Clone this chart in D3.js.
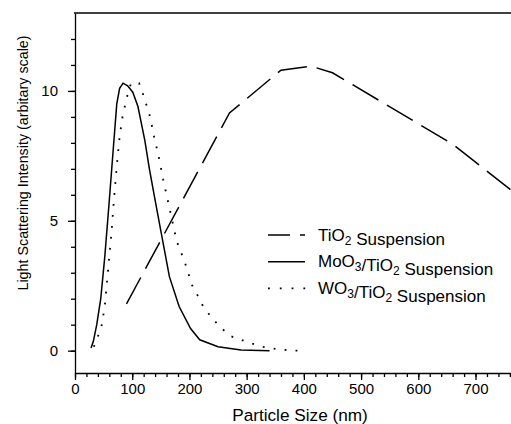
<!DOCTYPE html>
<html>
<head>
<meta charset="utf-8">
<script src="https://cdn.jsdelivr.net/npm/d3@7"></script>
<style>
body { margin: 0; background: #fff; }
text { font-family: "Liberation Sans", Arial, sans-serif; fill: #000; }
</style>
</head>
<body>
<div id="chart"></div>
<script>

// Set dimensions and margins for the plot
const width = 511;
const height = 424;
const margin = {left: 75, right: 0, top: 13, bottom: 51};

// TiO2 suspension (dashed)
const tioSize = [90, 270, 360, 413, 450, 660, 790];
const tioIntensity = [1.8, 9.15, 10.8, 10.95, 10.7, 7.95, 5.7];

// MoO3/TiO2 suspension (solid)
const moSize = [28, 32, 38, 45, 52, 60, 67, 73, 78, 84, 92, 101, 110, 116, 122, 130, 140, 151, 165, 182, 202, 218, 250, 290, 340];
const moIntensity = [0.1, 0.35, 1.0, 2.0, 3.6, 5.8, 7.8, 9.5, 10.1, 10.3, 10.2, 9.95, 9.4, 8.75, 8.1, 7.0, 5.8, 4.5, 2.85, 1.7, 0.85, 0.42, 0.15, 0.03, 0.0];

// WO3/TiO2 suspension (dotted)
const woSize = [33, 40, 46, 52, 59, 64, 68, 73, 78, 83, 88, 93, 98, 112, 119, 125, 130, 134, 138, 146, 154, 166, 178, 192, 205, 215, 224, 238, 253, 272, 291, 308, 329, 346, 367, 384, 403];
const woIntensity = [0.15, 0.55, 0.9, 1.7, 3.4, 4.6, 5.8, 7.1, 8.25, 9.0, 9.5, 9.95, 10.3, 10.3, 9.87, 9.45, 9.1, 8.7, 8.26, 7.5, 6.6, 5.4, 4.2, 3.4, 2.5, 2.1, 1.7, 1.3, 0.92, 0.56, 0.41, 0.28, 0.15, 0.08, 0.03, 0, 0];

// tick values and labels
const xTicks = [0, 100, 200, 300, 400, 500, 600, 700];
const xMinorTicks = d3.range(0, 761, 20);
const yTicks = [0, 5, 10];
const yMinorTicks = d3.range(0, 13, 1);

const seriesNames = ["TiO_2 Suspension", "MoO_3/TiO_2 Suspension", "WO_3/TiO_2 Suspension"];
const seriesDash = ["30,10", null, "1.8,9.2"];
const xTitle = "Particle Size (nm)";
const yTitle = "Light Scattering Intensity (arbitary scale)";

const svg = d3.select("#chart")
  .append("svg")
  .attr("width", width)
  .attr("height", height);

// scales
const xScale = d3.scaleLinear()
  .domain([0, 762])
  .range([margin.left, width - margin.right]);

const yScale = d3.scaleLinear()
  .domain([-0.86, 13])
  .range([height - margin.bottom, margin.top]);

// clip to the plot frame
svg.append("clipPath")
  .attr("id", "plot-clip")
  .append("rect")
  .attr("x", margin.left)
  .attr("y", margin.top)
  .attr("width", width - margin.left - margin.right)
  .attr("height", height - margin.top - margin.bottom);

// x axis, minor then major ticks
svg.append("g")
  .attr("transform", `translate(0,${height - margin.bottom})`)
  .call(d3.axisBottom(xScale).tickValues(xMinorTicks).tickSize(4).tickSizeOuter(0).tickFormat(""))
  .call(g => g.select(".domain").remove());

svg.append("g")
  .attr("class", "x-axis")
  .attr("transform", `translate(0,${height - margin.bottom})`)
  .call(d3.axisBottom(xScale).tickValues(xTicks).tickSize(7).tickSizeOuter(0).tickPadding(3.5))
  .attr("font-size", "15px");

// y axis, minor then major ticks
svg.append("g")
  .attr("transform", `translate(${margin.left},0)`)
  .call(d3.axisLeft(yScale).tickValues(yMinorTicks).tickSize(4).tickSizeOuter(0).tickFormat(""))
  .call(g => g.select(".domain").remove());

svg.append("g")
  .attr("class", "y-axis")
  .attr("transform", `translate(${margin.left},0)`)
  .call(d3.axisLeft(yScale).tickValues(yTicks).tickSize(7).tickSizeOuter(0).tickPadding(10))
  .attr("font-size", "15px");

svg.selectAll(".domain, .tick line")
  .attr("stroke", "#000")
  .attr("stroke-width", 1.3);

svg.selectAll(".tick text")
  .attr("font-family", "Liberation Sans, Arial, sans-serif")
  .attr("fill", "#000");

// top frame line
svg.append("line")
  .attr("x1", margin.left - 1)
  .attr("x2", width)
  .attr("y1", yScale(13))
  .attr("y2", yScale(13))
  .attr("stroke", "#000")
  .attr("stroke-width", 1.3);

// axis titles
svg.append("text")
  .attr("x", 300)
  .attr("y", 421)
  .attr("text-anchor", "middle")
  .attr("font-size", "17.2px")
  .text(xTitle);

svg.append("text")
  .attr("transform", `translate(28,163) rotate(-90)`)
  .attr("text-anchor", "middle")
  .attr("font-size", "14.3px")
  .text(yTitle);

// lines
const series = [
  d3.zip(tioSize, tioIntensity),
  d3.zip(moSize, moIntensity),
  d3.zip(woSize, woIntensity)
];

const line = d3.line()
  .x(d => xScale(d[0]))
  .y(d => yScale(d[1]));

svg.append("g")
  .attr("clip-path", "url(#plot-clip)")
  .selectAll("path")
  .data(series)
  .enter()
  .append("path")
    .attr("d", line)
    .attr("fill", "none")
    .attr("stroke", "#000")
    .attr("stroke-width", (d, i) => i === 2 ? 1.8 : 1.5)
    .attr("stroke-dasharray", (d, i) => seriesDash[i]);

// legend
const legend = svg.append("g")
  .attr("transform", "translate(268,235)");

const rows = legend.selectAll("g")
  .data(seriesNames)
  .enter()
  .append("g")
    .attr("transform", (d, i) => `translate(0,${i * 26.7})`);

rows.append("line")
  .attr("x1", 0)
  .attr("x2", (d, i) => i === 2 ? 40 : 37)
  .attr("y1", 0)
  .attr("y2", 0)
  .attr("stroke", "#000")
  .attr("stroke-width", (d, i) => i === 2 ? 1.8 : 1.5)
  .attr("stroke-dasharray", (d, i) => i === 2 ? "1.8,10" : seriesDash[i])
  .attr("stroke-dashoffset", (d, i) => i === 0 ? 8 : 0);

// label text with subscripts written as _n
const labels = rows.append("text")
  .attr("x", 50)
  .attr("y", 5.5)
  .attr("font-size", "17px");

labels.each(function(name) {
  const t = d3.select(this);
  name.split(/(_\d)/).forEach(part => {
    if (part.startsWith("_")) {
      t.append("tspan").attr("dy", 4).attr("font-size", "12px").text(part.slice(1));
      t.append("tspan").attr("dy", -4).text("");
    } else if (part) {
      t.append("tspan").text(part);
    }
  });
});

</script>
</body>
</html>
